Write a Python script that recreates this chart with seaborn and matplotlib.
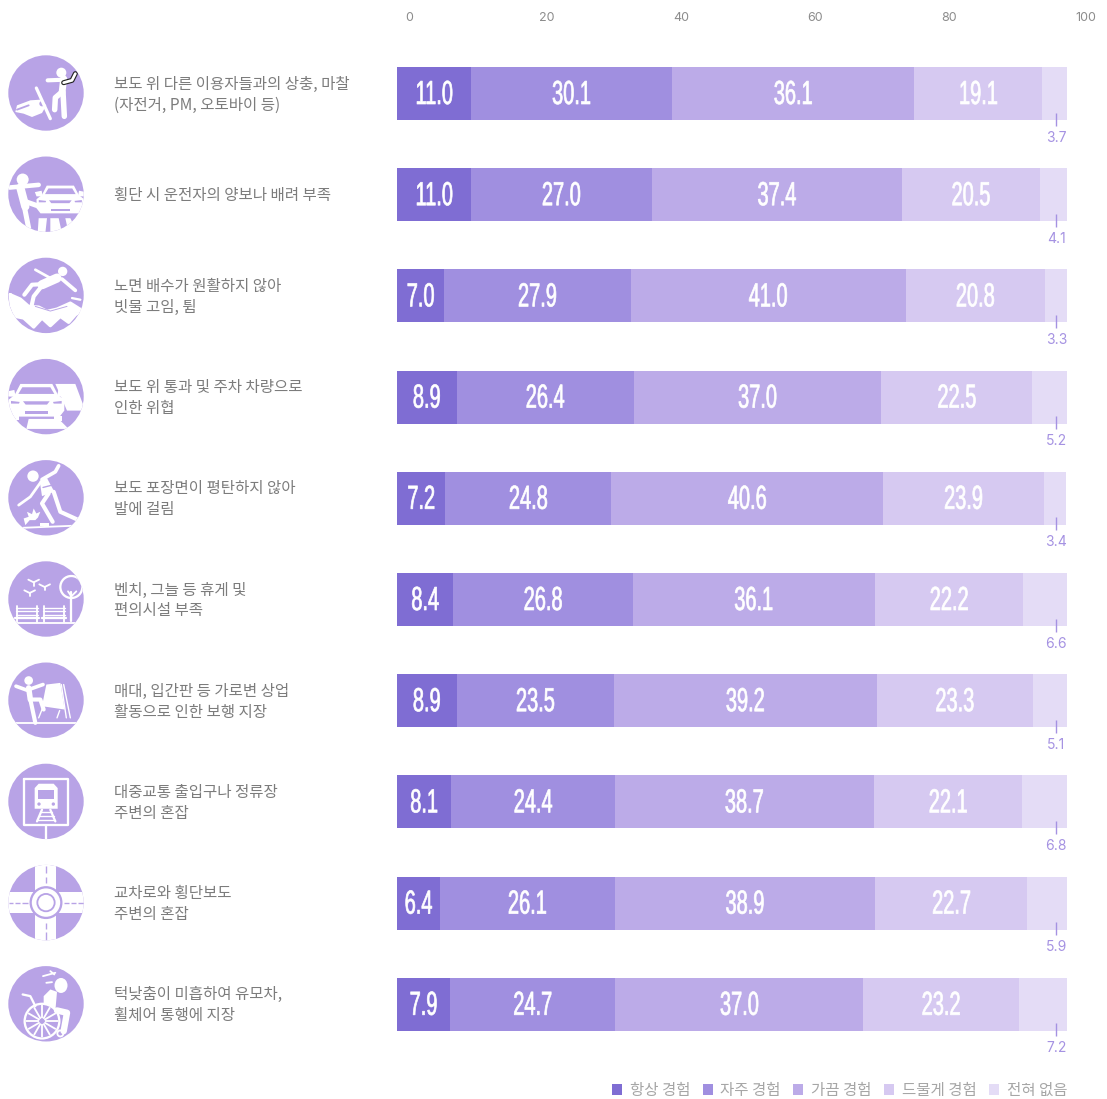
import numpy as np
import pandas as pd
import matplotlib
matplotlib.use('Agg')
import matplotlib.pyplot as plt
from matplotlib.patches import Circle, Polygon, Ellipse
from matplotlib.patheffects import AbstractPathEffect
from matplotlib.transforms import Affine2D, ScaledTranslation
import seaborn as sns

items = ['보도 위 다른 이용자들과의 상충, 마찰\n(자전거, PM, 오토바이 등)',
         '횡단 시 운전자의 양보나 배려 부족',
         '노면 배수가 원활하지 않아\n빗물 고임, 튐',
         '보도 위 통과 및 주차 차량으로\n인한 위협',
         '보도 포장면이 평탄하지 않아\n발에 걸림',
         '벤치, 그늘 등 휴게 및\n편의시설 부족',
         '매대, 입간판 등 가로변 상업\n활동으로 인한 보행 지장',
         '대중교통 출입구나 정류장\n주변의 혼잡',
         '교차로와 횡단보도\n주변의 혼잡',
         '턱낮춤이 미흡하여 유모차,\n휠체어 통행에 지장']
groups = ['항상 경험', '자주 경험', '가끔 경험', '드물게 경험', '전혀 없음']
always = [11.0, 11.0, 7.0, 8.9, 7.2, 8.4, 8.9, 8.1, 6.4, 7.9]
often = [30.1, 27.0, 27.9, 26.4, 24.8, 26.8, 23.5, 24.4, 26.1, 24.7]
sometimes = [36.1, 37.4, 41.0, 37.0, 40.6, 36.1, 39.2, 38.7, 38.9, 37.0]
rarely = [19.1, 20.5, 20.8, 22.5, 23.9, 22.2, 23.3, 22.1, 22.7, 23.2]
never = [3.7, 4.1, 3.3, 5.2, 3.4, 6.6, 5.1, 6.8, 5.9, 7.2]
colors = ['#7f6dd3', '#a08fe0', '#bcabe8', '#d6c9f1', '#e4dcf6']
xticks = [0, 20, 40, 60, 80, 100]

W, H = 1107, 1099
ROW = 101.2
KR = ['Noto Sans CJK KR', 'DejaVu Sans']
NUM = ['Liberation Sans Narrow', 'Liberation Sans', 'DejaVu Sans']
ICON = '#b8a3e6'


class Squeeze(AbstractPathEffect):
    # narrow the glyphs around their centre, there is no Oswald-like font here
    def __init__(self, sx, stroke):
        super().__init__()
        self.sx = sx
        self.stroke = stroke

    def draw_path(self, renderer, gc, tpath, affine, rgbFace=None):
        box = tpath.get_extents()
        cx = box.x0 + box.width / 2
        squeeze = Affine2D().translate(-cx, 0).scale(self.sx, 1).translate(cx, 0)
        gc0 = renderer.new_gc()
        gc0.copy_properties(gc)
        gc0.set_linewidth(self.stroke)
        gc0.set_foreground('white')
        renderer.draw_path(gc0, tpath, squeeze + affine, rgbFace)
        gc0.restore()


class Pen:
    # draws one pictogram, coordinates are 3x pixels around the circle centre (137, 128)
    def __init__(self, axis, row):
        self.axis = axis
        self.cy = 93 + ROW * row
        self.dy = 0
        self.clip = Circle((46, self.cy), 37.7, fc=ICON, ec='none')
        axis.add_patch(self.clip)

    def xy(self, pts):
        return [(46 + (x - 137) / 3, self.cy + (y + self.dy - 128) / 3) for x, y in pts]

    def line(self, pts, lw, color='white', cap='round'):
        p = self.xy(pts)
        art, = self.axis.plot([a for a, b in p], [b for a, b in p], color=color, lw=lw * 0.33,
                              solid_capstyle=cap, solid_joinstyle='round')
        art.set_clip_path(self.clip)

    def poly(self, pts, color='white'):
        art = Polygon(self.xy(pts), closed=True, fc=color, ec='none')
        self.axis.add_patch(art)
        art.set_clip_path(self.clip)

    def dot(self, x, y, r, color='white', ec='none', lw=0):
        art = Circle(self.xy([(x, y)])[0], r / 3, fc=color, ec=ec, lw=lw * 0.33)
        self.axis.add_patch(art)
        art.set_clip_path(self.clip)

    def car(self, cx, cy, s=1.0):
        def m(pts):
            return [(cx + x * s, cy + y * s) for x, y in pts]
        self.poly(m([(-48, -48), (48, -48), (65, -15), (84, 0), (84, 32), (70, 50), (-70, 50), (-84, 32),
                     (-84, 0), (-65, -15)]))
        self.poly(m([(-90, -25), (-66, -30), (-62, -10), (-84, -10)]))
        self.poly(m([(90, -25), (66, -30), (62, -10), (84, -10)]))
        self.poly(m([(-42, -38), (42, -38), (54, -18), (-54, -18)]), ICON)
        self.poly(m([(-76, 3), (-50, 6), (-52, 11), (-76, 11)]), ICON)
        self.poly(m([(76, 3), (50, 6), (52, 11), (76, 11)]), ICON)
        self.poly(m([(-40, 4), (40, 4), (32, 14), (-32, 14)]), ICON)
        self.poly(m([(-34, 33), (34, 33), (34, 43), (-34, 43)]), ICON)


def icon_collision(p):
    p.dot(183, 67, 15)
    p.line([(142, 90), (195, 88)], 9)
    p.line([(190, 85), (185, 128)], 15)
    p.line([(185, 125), (165, 142), (163, 178)], 12)
    p.line([(188, 125), (192, 198)], 12)
    p.line([(190, 97), (215, 90), (225, 70)], 11, color='#222222')
    p.line([(190, 97), (215, 90), (225, 70)], 6)
    p.poly([(50, 165), (90, 150), (120, 148), (138, 165), (125, 188), (95, 200), (70, 190), (45, 185)])
    p.line([(108, 113), (150, 205)], 7)
    p.dot(125, 160, 8, ICON)
    p.line([(50, 178), (85, 165)], 4, ICON)


def icon_crossing(p):
    p.dot(67, 84, 18)
    p.line([(28, 108), (115, 100)], 10)
    p.line([(60, 108), (75, 165)], 18)
    p.line([(75, 150), (118, 165)], 11)
    p.line([(72, 165), (85, 230)], 11)
    p.poly([(115, 200), (140, 200), (135, 245), (112, 245)])
    p.poly([(150, 200), (175, 200), (185, 245), (150, 245)])
    p.poly([(195, 200), (210, 200), (225, 230), (205, 245)])
    p.car(180, 143, 0.85)


def icon_splash(p):
    p.dy = -9
    p.dot(187, 65, 14)
    p.line([(170, 85), (125, 105)], 20)
    p.line([(105, 60), (150, 85)], 6)
    p.line([(185, 88), (225, 122)], 8)
    p.line([(130, 103), (95, 105), (72, 135)], 9)
    p.line([(122, 112), (100, 140), (90, 185)], 9)
    water = [(30, 135), (60, 148), (85, 170), (115, 172), (140, 185), (170, 178), (210, 160), (245, 182),
             (225, 195), (205, 218), (180, 200), (150, 228), (125, 205), (100, 232), (70, 205), (45, 200), (32, 165)]
    p.poly(water)
    p.line(water + water[:1], 7)
    p.line([(105, 170), (150, 184), (200, 170)], 2, ICON)
    p.line([(215, 145), (240, 150)], 5)


def icon_parked(p):
    p.poly([(165, 90), (225, 90), (255, 170), (200, 170)])
    p.poly([(85, 195), (175, 195), (205, 225), (78, 225)])
    p.poly([(20, 195), (52, 195), (40, 225), (20, 225)])
    p.car(108, 138)
    p.poly([(160, 185), (186, 185), (186, 200), (160, 200)])
    p.poly([(30, 185), (56, 185), (56, 198), (30, 198)])


def icon_trip(p):
    p.dy = -15
    p.dot(98, 78, 17)
    p.line([(125, 88), (165, 65), (175, 47)], 8)
    p.line([(122, 95), (90, 140), (55, 165)], 6)
    p.poly([(118, 92), (140, 84), (162, 125), (125, 138)])
    p.line([(128, 112), (155, 105)], 3, ICON)
    p.line([(145, 130), (125, 160), (157, 215)], 9)
    p.line([(160, 125), (180, 185), (235, 210)], 9)
    p.line([(68, 233), (240, 226)], 4)
    p.poly([(120, 220), (145, 220), (145, 227), (120, 227)])
    p.poly([(70, 205), (85, 200), (80, 185), (95, 192), (100, 175), (108, 190), (120, 185), (113, 202),
            (105, 210), (88, 210), (75, 225)])


def icon_rest(p):
    for x, y in [(100, 78), (133, 92), (88, 110)]:
        p.line([(x - 16, y - 8), (x, y), (x + 16, y - 8)], 4)
        p.line([(x, y), (x, y + 10)], 4)
    p.dot(213, 92, 33, color='none', ec='white', lw=5)
    p.line([(213, 108), (213, 195)], 5)
    p.line([(203, 105), (213, 120), (228, 105)], 4)
    for x in (47, 128):
        for y in (155, 165, 175):
            p.line([(x, y), (x + 65, y)], 3)
        p.line([(x + 2, 150), (x + 2, 198)], 4)
        p.line([(x + 63, 150), (x + 63, 198)], 4)
        p.line([(x - 3, 185), (x + 70, 185)], 5)
    p.line([(40, 200), (240, 200)], 4)


def icon_board(p):
    p.dy = -9
    p.dot(85, 78, 13)
    p.line([(47, 95), (80, 107), (128, 90)], 8)
    p.line([(85, 100), (90, 135)], 12)
    p.line([(90, 135), (120, 135), (130, 165)], 9)
    p.line([(90, 135), (105, 205)], 9)
    p.poly([(138, 90), (180, 85), (193, 165), (125, 155)])
    p.line([(190, 90), (210, 190)], 3)
    p.line([(183, 90), (198, 190)], 3)
    p.line([(127, 160), (115, 190)], 3)
    p.line([(178, 168), (170, 190)], 3)
    p.line([(45, 205), (235, 205)], 4)


def icon_transit(p):
    p.line([(70, 61), (203, 61), (203, 198), (70, 198), (70, 61)], 5)
    p.line([(137, 198), (137, 250)], 5, cap='butt')
    p.poly([(115, 75), (160, 75), (172, 88), (172, 150), (103, 150), (103, 88)])
    p.poly([(113, 93), (160, 93), (160, 120), (113, 120)], ICON)
    p.dot(116, 136, 5, ICON)
    p.dot(159, 136, 5, ICON)
    p.line([(125, 153), (110, 188)], 5)
    p.line([(150, 153), (165, 188)], 5)
    for y, a in [(160, 120), (172, 115), (184, 110)]:
        p.line([(a, y), (275 - a, y)], 3)


def icon_roundabout(p):
    p.poly([(105, 0), (168, 0), (168, 256), (105, 256)])
    p.poly([(0, 97), (260, 97), (260, 160), (0, 160)])
    p.dot(137, 128, 46, 'white', ICON, 5)
    p.dot(137, 128, 26, 'white', ICON, 4)
    for a, b in [(18, 40), (50, 70), (190, 206), (216, 240)]:
        p.line([(137, a), (137, b)], 3, ICON, 'butt')
    for a, b in [(25, 38), (44, 60), (66, 82), (192, 206), (212, 228), (234, 252)]:
        p.line([(a, 128), (b, 128)], 3, ICON, 'butt')


def icon_wheelchair(p):
    art = Ellipse(p.xy([(182, 73)])[0], 13, 15, fc='white', ec='none')
    p.axis.add_patch(art)
    p.poly([(130, 145), (130, 105), (150, 85), (170, 92), (165, 150)])
    p.line([(170, 148), (200, 155), (190, 210)], 14)
    p.line([(67, 100), (90, 105), (105, 135)], 5)
    p.dot(125, 180, 52, ICON, 'white', 5)
    for a in np.deg2rad(np.arange(0, 360, 30)):
        p.line([(125 + 8 * np.cos(a), 180 + 8 * np.sin(a)), (125 + 48 * np.cos(a), 180 + 48 * np.sin(a))], 4, cap='butt')
    p.dot(180, 217, 9, ICON, 'white', 4)
    p.line([(128, 45), (165, 35)], 4)
    p.line([(150, 30), (162, 40)], 4)
    p.line([(138, 65), (155, 63)], 4)


sns.set_theme(style='white')
plt.rcParams['font.family'] = KR

fig = plt.figure(figsize=(W / 100, H / 100), dpi=100)
pic = fig.add_axes([0, 0, 1, 1])
pic.set_xlim(0, W)
pic.set_ylim(H, 0)
pic.axis('off')
for row, draw in enumerate([icon_collision, icon_crossing, icon_splash, icon_parked, icon_trip,
                            icon_rest, icon_board, icon_transit, icon_roundabout, icon_wheelchair]):
    draw(Pen(pic, row))

ax = fig.add_axes([397 / W, 0, 670 / W, 1])

df = pd.DataFrame({'item': items, 'always': always, 'often': often,
                   'sometimes': sometimes, 'rarely': rarely, 'never': never})
cols = ['always', 'often', 'sometimes', 'rarely', 'never']
left = np.zeros(len(items))
for col, color, group in zip(cols, colors, groups):
    sns.barplot(data=df, y='item', x=col, left=left, color=color, width=53 / ROW,
                saturation=1, linewidth=0, label=group, ax=ax, legend=False)
    mids = left + df[col].values / 2
    if col != 'never':
        for i, m in enumerate(mids):
            ax.text(m, i - 1.5 / ROW, f'{df[col][i]:.1f}', color='white', ha='center', va='center_baseline',
                    family=NUM, fontsize=24, path_effects=[Squeeze(0.6, 0.5)])
    left = left + df[col].values

# small leader for the last segment, same spot in every row
for i, v in enumerate(never):
    ax.plot([98.4, 98.4], [i + 19 / ROW, i + 32 / ROW], color='#a592e2', lw=1, solid_capstyle='butt')
    ax.text(98.4, i + 44 / ROW, f'{v:.1f}', color='#a592e2', ha='center', va='center', fontsize=10,
            family=['Inter', 'DejaVu Sans'])

# row names left of the bars
for i, name in enumerate(items):
    ax.text((114 - 397) / 6.7, i + 1 / ROW, name, color='#7c7c7c', ha='left', va='center', fontsize=11.2,
            linespacing=1.3, family=KR)

ax.set_xlim(0, 100)
ax.set_ylim((H - 93.5) / ROW, -93.5 / ROW)
ax.set_xlabel('')
ax.set_ylabel('')
ax.set_yticks([])
ax.set_xticks(xticks)
ax.xaxis.tick_top()
ax.tick_params(axis='x', length=0, pad=0, labelsize=9, labelcolor='#8c8c8c')
off = ScaledTranslation(8 / 100, -18 / 100, fig.dpi_scale_trans)
for lab in ax.get_xticklabels():
    lab.set_ha('left')
    lab.set_va('center')
    lab.set_family(['Inter', 'DejaVu Sans'])
    lab.set_transform(lab.get_transform() + off)
sns.despine(ax=ax, left=True, bottom=True, top=True, right=True)
ax.patch.set_alpha(0)

# legend
handles, labels = ax.get_legend_handles_labels()
ax.legend(handles, labels, ncol=5, frameon=False, loc='lower right',
          bbox_to_anchor=(1.001, 0.0), borderaxespad=0, borderpad=0,
          handlelength=0.65, handleheight=0.65, handletextpad=0.5, columnspacing=0.8,
          labelcolor='#a6a6a6', prop={'family': KR, 'size': 11.2})

fig.savefig('out.png', dpi=100)
